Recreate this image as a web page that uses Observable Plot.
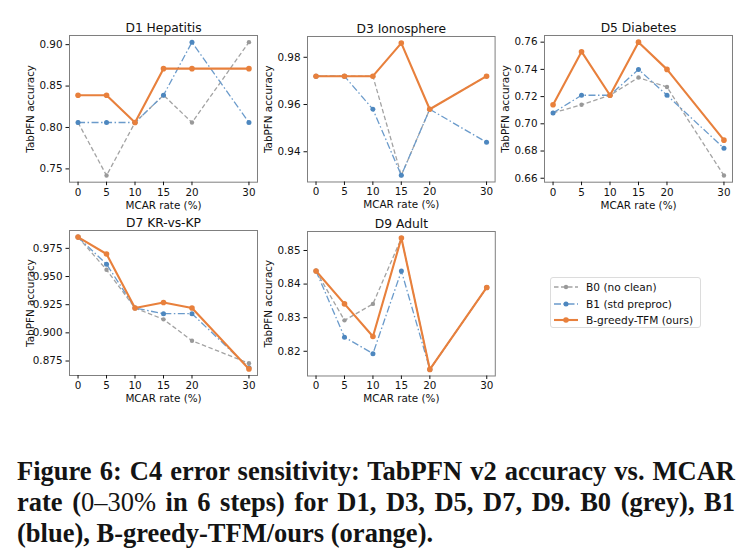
<!DOCTYPE html>
<html>
<head>
<meta charset="utf-8">
<script src="https://cdn.jsdelivr.net/npm/d3@7"></script>
<script src="https://cdn.jsdelivr.net/npm/@observablehq/plot@0.6"></script>
<style>
  body { margin: 0; background: #fff; }
  #fig { position: relative; width: 753px; height: 549px; overflow: hidden; font-family: "DejaVu Sans", sans-serif; }
  .panel { position: absolute; }
  .panel svg { overflow: visible; }
  #legend { position: absolute; left: 550px; top: 277px; width: 151px; height: 51px; box-sizing: border-box;
            border: 1px solid #dcdcdc; border-radius: 3px; background: #fff; font-size: 10.6px; color: #111; }
  .entry { position: absolute; left: 2px; height: 12px; display: flex; align-items: center; white-space: nowrap; }
  .entry svg { margin-right: 7px; }
  #caption { position: absolute; left: 17px; top: 456px; width: 718px; color: #141414;
             font-family: "Liberation Serif", serif; font-weight: bold; font-size: 26.5px; line-height: 31px; }
  #caption .ln { display: block; white-space: nowrap; }
  #caption .just { text-align: justify; text-align-last: justify; }
  #caption .reg { font-weight: normal; }
</style>
</head>
<body>
<div id="fig"></div>
<script>
// MCAR missingness rates (x axis)
const rates = [0, 5, 10, 15, 20, 30];
const methods = ["B0 (no clean)", "B1 (std preproc)", "B-greedy-TFM (ours)"];
const yLabel = "TabPFN accuracy";
const xLabel = "MCAR rate (%)";

// D1 Hepatitis
const hepatitisB0   = [0.806, 0.742, 0.806, 0.839, 0.806, 0.903];
const hepatitisB1   = [0.806, 0.806, 0.806, 0.839, 0.903, 0.806];
const hepatitisOurs = [0.839, 0.839, 0.806, 0.871, 0.871, 0.871];
const hepatitisTicks = [0.75, 0.80, 0.85, 0.90];

// D3 Ionosphere
const ionosphereB0   = [0.972, 0.972, 0.972, 0.930, 0.958, 0.972];
const ionosphereB1   = [0.972, 0.972, 0.958, 0.930, 0.958, 0.944];
const ionosphereOurs = [0.972, 0.972, 0.972, 0.986, 0.958, 0.972];
const ionosphereTicks = [0.94, 0.96, 0.98];

// D5 Diabetes
const diabetesB0   = [0.708, 0.714, 0.721, 0.734, 0.727, 0.662];
const diabetesB1   = [0.708, 0.721, 0.721, 0.740, 0.721, 0.682];
const diabetesOurs = [0.714, 0.753, 0.721, 0.760, 0.740, 0.688];
const diabetesTicks = [0.66, 0.68, 0.70, 0.72, 0.74, 0.76];

// D7 KR-vs-KP
const krvskpB0   = [0.985, 0.956, 0.922, 0.912, 0.893, 0.873];
const krvskpB1   = [0.985, 0.961, 0.922, 0.917, 0.917, 0.869];
const krvskpOurs = [0.985, 0.970, 0.922, 0.927, 0.922, 0.868];
const krvskpTicks = [0.875, 0.900, 0.925, 0.950, 0.975];

// D9 Adult
const adultB0   = [0.8439, 0.8292, 0.8341, 0.8537, 0.8146, 0.8390];
const adultB1   = [0.8439, 0.8242, 0.8193, 0.8439, 0.8146, 0.8390];
const adultOurs = [0.8439, 0.8341, 0.8244, 0.8537, 0.8146, 0.8390];
const adultTicks = [0.82, 0.83, 0.84, 0.85];

// line styles per method: grey dashed, blue dash-dot, orange solid
const styles = [
  {line: "#a3a3a3", dot: "#999999", width: 1.3, dash: "4.5,2.5", r: 2.2},
  {line: "#6b9bcb", dot: "#4d87bf", width: 1.3, dash: "7,2.5,1.5,2.5", r: 2.5},
  {line: "#e8803c", dot: "#e8803c", width: 2.1, dash: null, r: 2.8}
];

const panels = [
  {title: "D1 Hepatitis", series: [hepatitisB0, hepatitisB1, hepatitisOurs], ticks: hepatitisTicks, fmt: ".2f", left: 69.3, top: 35, w: 188, h: 146.7},
  {title: "D3 Ionosphere", series: [ionosphereB0, ionosphereB1, ionosphereOurs], ticks: ionosphereTicks, fmt: ".2f", left: 306.7, top: 35.5, w: 187.6, h: 145.5},
  {title: "D5 Diabetes", series: [diabetesB0, diabetesB1, diabetesOurs], ticks: diabetesTicks, fmt: ".2f", left: 544.3, top: 35, w: 188, h: 146.7},
  {title: "D7 KR-vs-KP", series: [krvskpB0, krvskpB1, krvskpOurs], ticks: krvskpTicks, fmt: ".3f", left: 69.3, top: 230, w: 188, h: 145},
  {title: "D9 Adult", series: [adultB0, adultB1, adultOurs], ticks: adultTicks, fmt: ".2f", left: 306.5, top: 230.5, w: 187.8, h: 144.5}
];

const fig = document.getElementById("fig");
const mL = 69, mR = 14, mT = 35, mB = 36;

for (const p of panels) {
  const rows = p.series.flatMap((vals, k) => vals.map((v, i) => ({rate: rates[i], acc: v, k})));
  const [lo, hi] = d3.extent(rows, d => d.acc);
  const pad = (hi - lo) * 0.05;
  const marks = [
    Plot.frame({stroke: "#7f7f7f", strokeWidth: 1}),
    Plot.axisX({ticks: rates, tickFormat: d => String(d), tickSize: 3.5, tickPadding: 2.5,
                label: xLabel, labelAnchor: "center", labelOffset: 26.5, labelArrow: "none"}),
    Plot.axisY({ticks: p.ticks, tickFormat: d3.format(p.fmt), tickSize: 3.5, tickPadding: 3.5,
                label: yLabel, labelAnchor: "center", labelOffset: 42.5, labelArrow: "none"})
  ];
  styles.forEach((s, k) => {
    const d = rows.filter(r => r.k === k);
    marks.push(Plot.line(d, {x: "rate", y: "acc", stroke: s.line, strokeWidth: s.width,
                             strokeDasharray: s.dash, strokeLinecap: "butt", strokeLinejoin: "round"}));
    marks.push(Plot.dot(d, {x: "rate", y: "acc", r: s.r, fill: s.dot, stroke: "none"}));
  });
  marks.push(Plot.text([p.title], {text: d => d, frameAnchor: "top", lineAnchor: "bottom", dy: -3.5, fontSize: 12.3, fill: "#111"}));

  const chart = Plot.plot({
    width: mL + p.w + mR,
    height: mT + p.h + mB,
    marginLeft: mL, marginRight: mR, marginTop: mT, marginBottom: mB,
    style: {background: "transparent", fontFamily: "DejaVu Sans, sans-serif", fontSize: "10.4px", color: "#111", overflow: "visible"},
    x: {domain: [-1.5, 31.5]},
    y: {domain: [lo - pad, hi + pad]},
    marks
  });
  const div = document.createElement("div");
  div.className = "panel";
  div.style.left = (p.left - mL) + "px";
  div.style.top = (p.top - mT) + "px";
  div.appendChild(chart);
  fig.appendChild(div);
}

// legend
const legend = document.createElement("div");
legend.id = "legend";
const rowTops = [3, 19.5, 35.5];
methods.forEach((m, k) => {
  const s = styles[k];
  const e = document.createElement("div");
  e.className = "entry";
  e.style.top = rowTops[k] + "px";
  e.innerHTML = `<svg width="26" height="10"><line x1="1" x2="25" y1="5" y2="5" stroke="${s.line}" stroke-width="${s.width}" ${s.dash ? `stroke-dasharray="${s.dash}"` : ""}/><circle cx="13" cy="5" r="${s.r}" fill="${s.dot}"/></svg><span>${m}</span>`;
  legend.appendChild(e);
});
fig.appendChild(legend);

// caption
const cap = document.createElement("div");
cap.id = "caption";
cap.innerHTML =
  `<span class="ln just">Figure 6: C4 error sensitivity: TabPFN v2 accuracy vs. MCAR</span>` +
  `<span class="ln just">rate (<span class="reg">0–30%</span> in 6 steps) for D1, D3, D5, D7, D9. B0 (grey), B1</span>` +
  `<span class="ln">(blue), B-greedy-TFM/ours (orange).</span>`;
fig.appendChild(cap);
</script>
</body>
</html>
